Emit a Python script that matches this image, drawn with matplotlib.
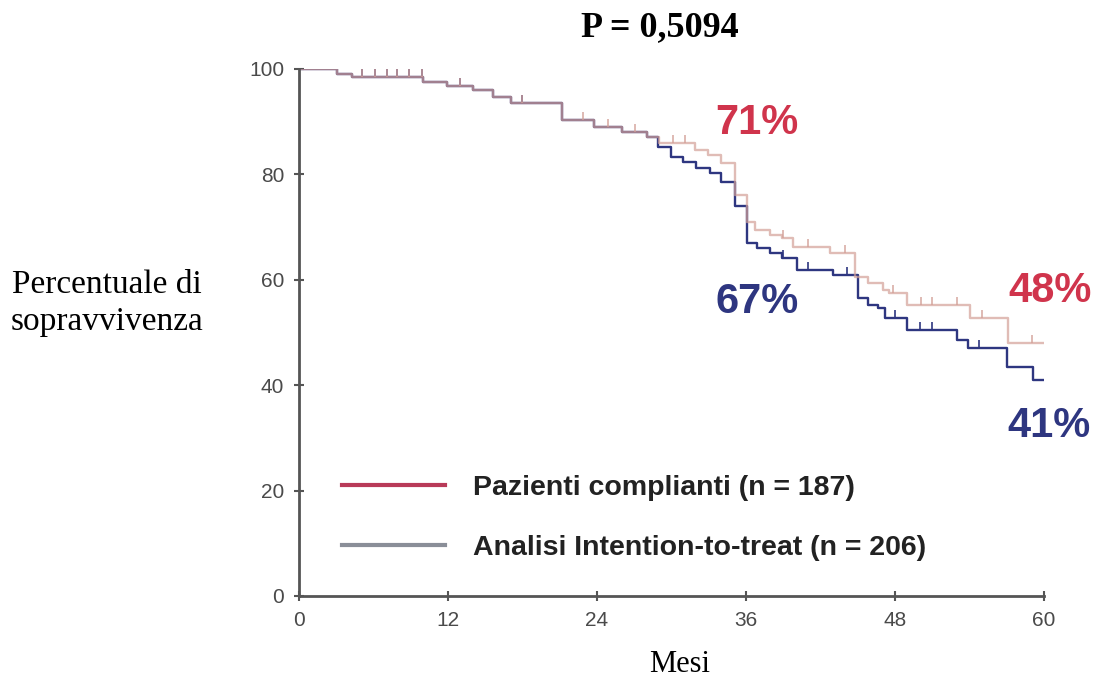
import numpy as np
import matplotlib
matplotlib.use("Agg")
import matplotlib.pyplot as plt
from matplotlib.lines import Line2D

# Kaplan-Meier step curves (months, % survival)
comp_t = [0, 3.1, 4.3, 10.0, 11.9, 14.0, 15.6, 17.1, 21.2, 23.8, 26.0, 28.0, 29.0,
          31.9, 32.9, 34.0, 35.1, 36.1, 36.7, 37.9, 38.9, 39.8, 42.8, 44.8, 45.8,
          47.0, 47.5, 49.0, 54.0, 57.1, 60.0]
comp_s = [100, 99.0, 98.5, 97.6, 96.8, 96.0, 94.7, 93.5, 90.3, 89.0, 88.0, 87.0, 86.0,
          84.6, 83.7, 82.2, 76.0, 71.0, 69.4, 68.4, 67.9, 66.2, 65.1, 60.5, 59.4,
          58.0, 57.5, 55.2, 52.7, 48.0, 48.0]

itt_t = [0, 3.1, 4.3, 10.0, 11.9, 14.0, 15.6, 17.1, 21.2, 23.8, 26.0, 28.0, 28.9,
         30.0, 30.9, 32.0, 33.1, 34.0, 35.1, 36.1, 36.9, 37.9, 38.9, 40.1, 43.0,
         45.0, 45.8, 46.6, 47.2, 49.0, 53.0, 53.9, 57.0, 59.1, 60.0]
itt_s = [100, 99.0, 98.5, 97.6, 96.8, 96.0, 94.7, 93.5, 90.3, 89.0, 88.0, 87.0, 85.2,
         83.3, 82.3, 81.2, 80.2, 78.5, 74.0, 67.0, 66.0, 65.0, 64.1, 61.9, 60.9,
         56.5, 55.2, 54.6, 52.7, 50.5, 48.6, 47.0, 43.5, 41.0, 41.0]

# censored observations
comp_cens = [5.1, 6.1, 7.1, 7.9, 8.9, 9.9, 13.0, 18.0, 22.9, 24.9, 27.1, 30.1, 31.1,
             39.0, 41.0, 44.0, 47.8, 50.1, 51.0, 53.0, 55.0, 59.0]
itt_cens = [5.1, 6.1, 7.1, 7.9, 8.9, 9.9, 13.0, 18.0, 39.0, 41.0, 44.1, 48.0, 50.0,
            51.0, 54.8]

labels = ["Pazienti complianti (n = 187)", "Analisi Intention-to-treat (n = 206)"]

c_comp = "#d3a097"
c_itt = "#2e3680"


def surv_at(t, s, x):
    i = np.searchsorted(t, x, side="right") - 1
    return np.array(s)[i]


fig = plt.figure(figsize=(10.99, 6.89), dpi=100)
ax = fig.add_axes([0.272, 0.135, 0.678, 0.765])

ax.step(itt_t, itt_s, where="post", color=c_itt, lw=1.7)
ax.plot(itt_cens, surv_at(itt_t, itt_s, itt_cens), ls="none", marker=2,
        ms=6, mew=1.2, color=c_itt)
ax.step(comp_t, comp_s, where="post", color=c_comp, lw=1.7, alpha=0.7)
ax.plot(comp_cens, surv_at(comp_t, comp_s, comp_cens), ls="none", marker=2,
        ms=6, mew=1.2, color=c_comp, alpha=0.85)

ax.set_xlim(0, 60)
ax.set_ylim(0, 100)
ax.set_xticks(range(0, 61, 12))
ax.set_yticks(range(0, 101, 20))
for sp in ["top", "right"]:
    ax.spines[sp].set_visible(False)
for sp in ["left", "bottom"]:
    ax.spines[sp].set_color("#555555")
    ax.spines[sp].set_linewidth(2)
ax.tick_params(direction="inout", length=7, width=1.5, color="#555555",
               labelsize=15, labelcolor="#4a4a4a", pad=7)
for lab in ax.get_xticklabels() + ax.get_yticklabels():
    lab.set_family("Liberation Sans")

handles = [Line2D([], [], color="#b83a58", lw=3),
           Line2D([], [], color="#8a8e98", lw=3)]
leg = ax.legend(handles, labels, loc="lower left", bbox_to_anchor=(0.024, 0.018),
                frameon=False, handlelength=3.6, handletextpad=1.0,
                labelspacing=1.2,
                prop={"family": "Liberation Sans", "weight": "bold", "size": 20.5})
for t in leg.get_texts():
    t.set_color("#222222")

pct = {"family": "Liberation Sans", "weight": "bold", "size": 30}
ax.text(36.9, 89.8, "71%", color="#d0344c", ha="center", va="center", **pct)
ax.text(36.9, 55.7, "67%", color=c_itt, ha="center", va="center", **pct)
ax.text(60.5, 57.8, "48%", color="#d0344c", ha="center", va="center", **pct)
ax.text(60.4, 32.3, "41%", color=c_itt, ha="center", va="center", **pct)

fig.text(0.60, 0.96, "P = 0,5094", ha="center", va="center",
         family="Liberation Serif", weight="bold", size=26)
fig.text(0.0975, 0.56, "Percentuale di\nsopravvivenza", ha="center", va="center",
         family="Liberation Serif", size=24, linespacing=1.3)
fig.text(0.618, 0.035, "Mesi", ha="center", va="center",
         family="Liberation Serif", size=22)

fig.savefig("out.png", dpi=100)
